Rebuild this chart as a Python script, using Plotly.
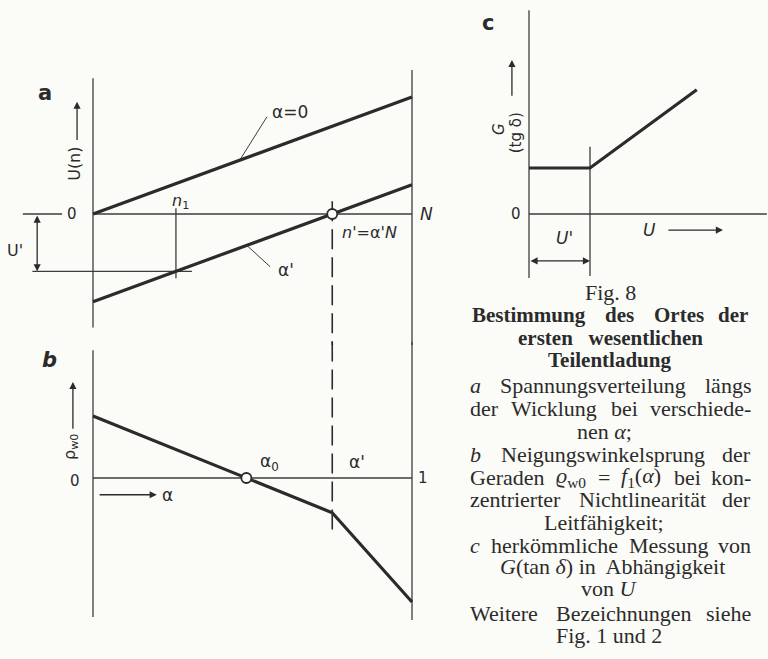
import re
import plotly.graph_objects as go

W, H = 768, 659
INK = "#2b2b2b"
THIN = "#3c3c3c"
PAPER = "#fbfbf8"
SANS = "DejaVu Sans"
SERIF = "Liberation Serif"

# ---- panel a: voltage along the winding, U(n) over n/N
n_rel = [0.0, 1.0]
u_alpha_zero = [0.0, 1.0]        # α = 0
u_alpha_prime = [-0.75, 0.25]    # α = α'
alpha_prime = 0.75               # n' = α'N
n1 = 0.26

# ---- panel b: ρ_w0 = f1(α)
alpha_vals = [0.0, 0.75, 1.0]
rho_w0 = [1.0, -0.56, -2.0]

# ---- panel c: G (tg δ) over U
u_vals = [0.0, 1.0, 2.75]
g_vals = [1.0, 1.0, 2.7]
u_prime = 1.0


def lerp(xs, ys, x):
    for i in range(len(xs) - 1):
        if xs[i] <= x <= xs[i + 1]:
            t = (x - xs[i]) / (xs[i + 1] - xs[i])
            return ys[i] + t * (ys[i + 1] - ys[i])
    return ys[-1]


def zero_cross(xs, ys):
    for i in range(len(xs) - 1):
        if ys[i] >= 0 >= ys[i + 1]:
            return xs[i] + ys[i] * (xs[i + 1] - xs[i]) / (ys[i] - ys[i + 1])
    return None


alpha0 = zero_cross(alpha_vals, rho_w0)
u_n1 = lerp(n_rel, u_alpha_prime, n1)

# pixel placement of each panel: origin, pixels per unit, visible range
PA = dict(x0=93, sx=319, y0=214, sy=117, xr=[-0.29, 1.15], yr=[-1.12, 1.3])
PB = dict(x0=93, sx=319, y0=478, sy=62, xr=[-0.29, 1.15], yr=[-2.35, 2.2])
PC = dict(x0=529, sx=61, y0=214, sy=46, xr=[-0.8, 3.9], yr=[-1.65, 4.5])


def xdom(p):
    return [max(0, (p["x0"] + p["xr"][0] * p["sx"]) / W), min(1, (p["x0"] + p["xr"][1] * p["sx"]) / W)]


def ydom(p):
    return [max(0, 1 - (p["y0"] - p["yr"][0] * p["sy"]) / H), min(1, 1 - (p["y0"] - p["yr"][1] * p["sy"]) / H)]


fig = go.Figure()

curve = dict(color=INK, width=3.2)
fig.add_trace(go.Scatter(x=n_rel, y=u_alpha_zero, mode="lines", line=curve, xaxis="x", yaxis="y"))
fig.add_trace(go.Scatter(x=n_rel, y=u_alpha_prime, mode="lines", line=curve, xaxis="x", yaxis="y"))
fig.add_trace(go.Scatter(x=alpha_vals, y=rho_w0, mode="lines", line=curve, xaxis="x2", yaxis="y2"))
fig.add_trace(go.Scatter(x=u_vals, y=g_vals, mode="lines", line=curve, xaxis="x3", yaxis="y3"))

ring = dict(symbol="circle", size=10, color="white", line=dict(color=INK, width=1.8))
fig.add_trace(go.Scatter(x=[alpha_prime], y=[0], mode="markers", marker=ring, xaxis="x", yaxis="y"))
fig.add_trace(go.Scatter(x=[alpha0], y=[0], mode="markers", marker=ring, xaxis="x2", yaxis="y2"))

shapes = []


def seg(ax, x0, y0, x1, y1, width=1.3, dash="solid", color=THIN):
    sfx = "" if ax == 1 else str(ax)
    shapes.append(dict(type="line", xref="x" + sfx, yref="y" + sfx, x0=x0, y0=y0, x1=x1, y1=y1,
                       line=dict(color=color, width=width, dash=dash), layer="below"))


# panel a frame
seg(1, 0, 1.16, 0, -0.97)
seg(1, 1, 1.23, 1, PA["yr"][0])
seg(1, 0, 0, 1, 0)
seg(1, -0.22, 0, -0.097, 0)
seg(1, n1, 0.05, n1, u_n1 - 0.06)
seg(1, -0.19, u_n1, n1 + 0.05, u_n1)
seg(1, alpha_prime, 0.11, alpha_prime, PA["yr"][0], width=1.6, dash="20px,8px", color=INK)
# leader lines
seg(1, 0.545, 0.83, 0.46, 0.46, width=1.0)
seg(1, 0.483, -0.27, 0.555, -0.45, width=1.0)

# panel b frame
seg(2, 0, 2.06, 0, -2.24)
seg(2, 1, PB["yr"][1], 1, -2.29)
seg(2, 0, 0, 1, 0)
seg(2, alpha_prime, PB["yr"][1], alpha_prime, -0.89, width=1.6, dash="20px,8px", color=INK)

# panel c frame
seg(3, 0, 4.43, 0, -1.39)
seg(3, 0, 0, 3.9, 0)
seg(3, u_prime, 1.46, u_prime, -1.35)

ann = []


def lab(ax, text, x, y, size=16, xanchor="center", angle=0, family=SANS, color=INK):
    sfx = "" if ax == 1 else str(ax)
    ann.append(dict(xref="x" + sfx, yref="y" + sfx, x=x, y=y, text=text, showarrow=False,
                    xanchor=xanchor, yanchor="middle", textangle=angle,
                    font=dict(family=family, size=size, color=color)))


def arrow(ax, x0, y0, x1, y1, both=False, width=1.3):
    sfx = "" if ax == 1 else str(ax)
    ann.append(dict(xref="x" + sfx, yref="y" + sfx, axref="x" + sfx, ayref="y" + sfx,
                    x=x1, y=y1, ax=x0, ay=y0, text="", showarrow=True,
                    arrowhead=2, arrowsize=1.1, arrowwidth=width, arrowcolor=INK,
                    arrowside="end+start" if both else "end", standoff=0, startstandoff=0))


# panel a labels
lab(1, "<b>a</b>", -0.15, 1.03, size=21)
lab(1, "0", -0.066, 0, size=15)
lab(1, "<i>N</i>", 1.047, 0, size=17)
lab(1, "U(n)", -0.056, 0.43, size=16, angle=-90)
arrow(1, -0.05, 0.62, -0.05, 0.96)
lab(1, "α=0", 0.555, 0.87, size=17, xanchor="left")
lab(1, "α'", 0.575, -0.48, size=17, xanchor="left")
lab(1, "<i>n</i><sub>1</sub>", 0.273, 0.11, size=16)
lab(1, "<i>n</i>'=α'<i>N</i>", 0.775, -0.16, size=16, xanchor="left")
lab(1, "U'", -0.245, -0.31, size=16)
arrow(1, -0.175, 0, -0.175, u_n1, both=True)

# panel b labels
lab(2, "<i><b>b</b></i>", -0.135, 1.9, size=21)
lab(2, "0", -0.056, -0.05, size=15)
lab(2, "1", 1.035, 0, size=15)
lab(2, "ρ<sub>w0</sub>", -0.072, 0.5, size=16, angle=-90)
arrow(2, -0.063, 0.77, -0.063, 1.55)
lab(2, "α<sub>0</sub>", alpha0 + 0.035, 0.25, size=17, xanchor="left")
lab(2, "α'", alpha_prime + 0.046, 0.26, size=17, xanchor="left")
arrow(2, 0.016, -0.27, 0.2, -0.27)
lab(2, "α", 0.235, -0.27, size=17)

# panel c labels
lab(3, "<b>c</b>", -0.67, 4.15, size=21)
lab(3, "0", -0.21, 0, size=15)
lab(3, "<i>G</i>", -0.49, 1.85, size=15, angle=-90)
lab(3, "(tg δ)", -0.21, 1.76, size=15, angle=-90)
arrow(3, -0.28, 2.54, -0.28, 3.35)
lab(3, "<i>U</i>", 1.98, -0.35, size=17)
arrow(3, 2.26, -0.35, 3.18, -0.35)
lab(3, "<i>U</i>'", 0.59, -0.52, size=17)
arrow(3, 0, -1.02, u_prime, -1.02, both=True)

# ---- caption (justified serif column)
CAP_L, CAP_R = 469, 752
CAP_SIZE = 22
BOLD_SIZE = 21

# Times-compatible advance widths (1/1000 em) used to spread justified words
ADV = dict(zip("abcdefghijklmnopqrstuvwxyz",
               [444, 500, 444, 500, 444, 333, 500, 500, 278, 278, 500, 278, 778,
                500, 500, 500, 500, 333, 389, 278, 500, 500, 722, 500, 500, 444]))
ADV.update({"ä": 444, "ö": 500, "ü": 500, "G": 722, "M": 889, "N": 722, "S": 556, "O": 722,
            "W": 944, "B": 667, "U": 722, "-": 333, ";": 278, ".": 250, "(": 333,
            ")": 333, "=": 564, " ": 250, "ϱ": 520, "α": 540, "δ": 500, "0": 500, "1": 500})


def text_width(html, size):
    total = 0.0
    bold = 1.055 if "<b>" in html else 1.0
    for part in re.split(r"(<sub>.*?</sub>)", html):
        scale = 0.7 if part.startswith("<sub>") else 1.0
        plain = re.sub(r"<[^>]+>", "", part)
        total += scale * sum(ADV.get(ch, 500) for ch in plain)
    return bold * total * size / 1000.0


def cap(text, xpx, ypx, anchor="center", size=CAP_SIZE):
    ann.append(dict(xref="paper", yref="paper", x=xpx / W, y=1 - ypx / H, text=text,
                    showarrow=False, xanchor=anchor, yanchor="middle", borderpad=0,
                    font=dict(family=SERIF, size=size, color=INK)))


def justify(words, ypx, left=CAP_L, right=CAP_R, size=CAP_SIZE):
    widths = [text_width(w, size) for w in words]
    gap = (right - left - sum(widths)) / (len(words) - 1)
    x = left
    for i, (w, wd) in enumerate(zip(words, widths)):
        if i == len(words) - 1:
            cap(w, right, ypx, anchor="right", size=size)
        else:
            cap(w, x, ypx, anchor="left", size=size)
        x += wd + gap


cap("Fig. 8", 610, 293)
justify(["<b>Bestimmung</b>", "<b>des</b>", "<b>Ortes</b>", "<b>der</b>"], 315,
        left=CAP_L + 2, right=CAP_R - 3, size=BOLD_SIZE)
cap("<b>ersten&nbsp;&nbsp; wesentlichen</b>", 610, 338, size=BOLD_SIZE)
cap("<b>Teilentladung</b>", 609, 360, size=BOLD_SIZE)

justify(["<i>a</i>", "Spannungsverteilung", "längs"], 385)
justify(["der", "Wicklung", "bei", "verschiede-"], 408)
cap("nen <i>α</i>;", 604, 431)
justify(["<i>b</i>", "Neigungswinkelsprung", "der"], 454)
justify(["Geraden", "<i>ϱ</i><sub>w0</sub>", "=", "<i>f</i><sub>1</sub>(<i>α</i>)", "bei", "kon-"], 477)
justify(["zentrierter", "Nichtlinearität", "der"], 499)
cap("Leitfähigkeit;", 604, 522)
justify(["<i>c</i>", "herkömmliche", "Messung", "von"], 545)
cap("<i>G</i>(tan <i>δ</i>) in&nbsp; Abhängigkeit", 612, 566)
cap("von <i>U</i>", 609, 588)
justify(["Weitere", "Bezeichnungen", "siehe"], 613)
cap("Fig. 1 und 2", 609, 635)


def axis(p, anchor):
    return dict(visible=False, range=p, fixedrange=True, anchor=anchor)


fig.update_layout(
    width=W, height=H, margin=dict(l=0, r=0, t=0, b=0),
    paper_bgcolor=PAPER, plot_bgcolor="rgba(0,0,0,0)", showlegend=False,
    xaxis=dict(axis(PA["xr"], "y"), domain=xdom(PA)),
    yaxis=dict(axis(PA["yr"], "x"), domain=ydom(PA)),
    xaxis2=dict(axis(PB["xr"], "y2"), domain=xdom(PB)),
    yaxis2=dict(axis(PB["yr"], "x2"), domain=ydom(PB)),
    xaxis3=dict(axis(PC["xr"], "y3"), domain=xdom(PC)),
    yaxis3=dict(axis(PC["yr"], "x3"), domain=ydom(PC)),
    shapes=shapes, annotations=ann,
)

fig.write_html("out.html")
